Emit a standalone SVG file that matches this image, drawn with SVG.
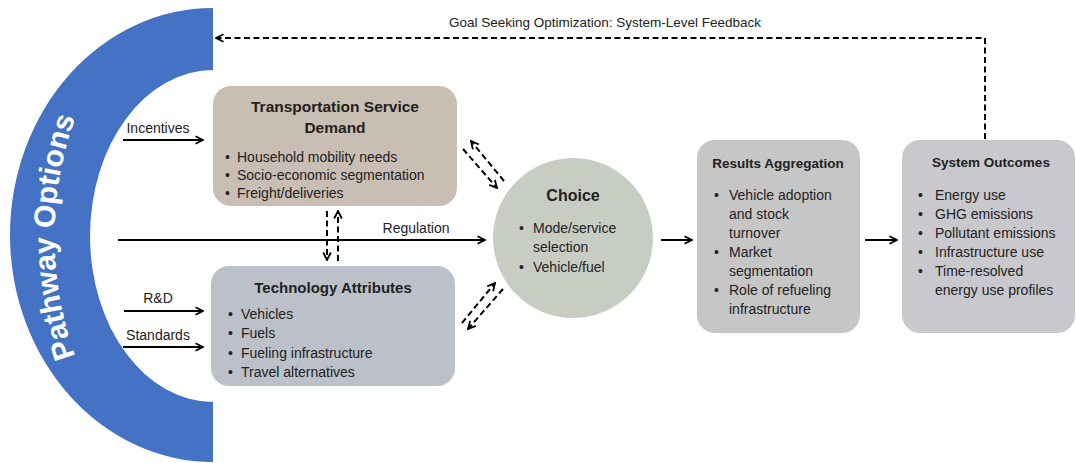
<svg xmlns="http://www.w3.org/2000/svg" width="1076" height="463" viewBox="0 0 1076 463">
<style>
text{font-family:"Liberation Sans",Arial,sans-serif;fill:#222}
.t{font-weight:bold;text-anchor:middle}
.b{font-size:14px}
.l{font-size:14px}
.ln{stroke:#000;stroke-width:2;fill:none}
.d{stroke:#000;stroke-width:2;fill:none;stroke-dasharray:6 3.5}
</style>
<defs>
<marker id="ah" viewBox="0 0 10 10" refX="9" refY="5" markerWidth="10" markerHeight="10" markerUnits="userSpaceOnUse" orient="auto">
<path d="M1.5,1.2 L9,5 L1.5,8.8" fill="none" stroke="#000" stroke-width="1.8" stroke-dasharray="none"/>
</marker>
<path id="arcpath" d="M83,376 A354,354 0 0 1 83,98"/>
</defs>
<rect width="1076" height="463" fill="#fff"/>
<g id="pathway">
<path d="M213,8 A203,227 0 0 0 213,462 L213,402 A123,166 0 0 1 213,70 Z" fill="#4472c4"/>
<text font-size="30" font-weight="bold" style="fill:#fff"><textPath href="#arcpath" startOffset="50%" text-anchor="middle">Pathway Options</textPath></text>
</g>
<g id="connectors">
<line class="ln" x1="123" y1="140" x2="203" y2="140" marker-end="url(#ah)"/>
<line class="ln" x1="124" y1="311" x2="203" y2="311" marker-end="url(#ah)"/>
<line class="ln" x1="123" y1="347" x2="203" y2="347" marker-end="url(#ah)"/>
<line class="ln" x1="118" y1="240" x2="485" y2="240" marker-end="url(#ah)"/>
<line class="ln" x1="661" y1="240" x2="692" y2="240" marker-end="url(#ah)"/>
<line class="ln" x1="865" y1="240" x2="897" y2="240" marker-end="url(#ah)"/>
<line class="d" x1="327" y1="211" x2="327" y2="260" marker-end="url(#ah)"/>
<line class="d" x1="338" y1="261" x2="338" y2="211" marker-end="url(#ah)"/>
<line class="d" x1="504" y1="181" x2="471" y2="141" marker-end="url(#ah)"/>
<line class="d" x1="463" y1="149" x2="497" y2="188" marker-end="url(#ah)"/>
<line class="d" x1="462" y1="323" x2="495" y2="283" marker-end="url(#ah)"/>
<line class="d" x1="503" y1="289" x2="468" y2="329" marker-end="url(#ah)"/>
<polyline class="d" points="985,139 985,38 216,38" marker-end="url(#ah)"/>
<text class="l" x="158" y="133" text-anchor="middle">Incentives</text>
<text class="l" x="158" y="303" text-anchor="middle">R&amp;D</text>
<text class="l" x="158" y="340" text-anchor="middle">Standards</text>
<text class="l" x="416" y="233" text-anchor="middle">Regulation</text>
<text x="605" y="27" text-anchor="middle" font-size="13.5">Goal Seeking Optimization: System-Level Feedback</text>
</g>
<g id="transport">
<rect x="213" y="86" width="244" height="120" rx="18" fill="#c9beb4"/>
<text class="t" x="335" y="112" font-size="15.5">Transportation Service</text>
<text class="t" x="335" y="133" font-size="15.5">Demand</text>
<g class="b">
<text x="225" y="162">•</text><text x="237" y="162">Household mobility needs</text>
<text x="225" y="180">•</text><text x="237" y="180">Socio-economic segmentation</text>
<text x="225" y="198">•</text><text x="237" y="198">Freight/deliveries</text>
</g>
</g>
<g id="technology">
<rect x="211" y="266" width="244" height="120" rx="18" fill="#bcc0c8"/>
<text class="t" x="333" y="293" font-size="15">Technology Attributes</text>
<g class="b">
<text x="228" y="319">•</text><text x="241" y="319">Vehicles</text>
<text x="228" y="338">•</text><text x="241" y="338">Fuels</text>
<text x="228" y="358">•</text><text x="241" y="358">Fueling infrastructure</text>
<text x="228" y="377">•</text><text x="241" y="377">Travel alternatives</text>
</g>
</g>
<g id="choice">
<circle cx="573" cy="238" r="80" fill="#c8cdc4"/>
<text class="t" x="573" y="201" font-size="16">Choice</text>
<g class="b">
<text x="519" y="233">•</text><text x="533" y="233">Mode/service</text>
<text x="533" y="252">selection</text>
<text x="519" y="272">•</text><text x="533" y="272">Vehicle/fuel</text>
</g>
</g>
<g id="results">
<rect x="697" y="140" width="163" height="193" rx="18" fill="#c6c6c6"/>
<text class="t" x="778" y="168" font-size="13.5">Results Aggregation</text>
<g class="b">
<text x="714" y="200">•</text><text x="729" y="200">Vehicle adoption</text>
<text x="729" y="219">and stock</text>
<text x="729" y="238">turnover</text>
<text x="714" y="257">•</text><text x="729" y="257">Market</text>
<text x="729" y="276">segmentation</text>
<text x="714" y="295">•</text><text x="729" y="295">Role of refueling</text>
<text x="729" y="314">infrastructure</text>
</g>
</g>
<g id="outcomes">
<rect x="902" y="140" width="173" height="193" rx="18" fill="#c9c8cc"/>
<text class="t" x="991" y="167" font-size="13.5">System Outcomes</text>
<g class="b">
<text x="918" y="200">•</text><text x="935" y="200">Energy use</text>
<text x="918" y="219">•</text><text x="935" y="219">GHG emissions</text>
<text x="918" y="238">•</text><text x="935" y="238">Pollutant emissions</text>
<text x="918" y="257">•</text><text x="935" y="257">Infrastructure use</text>
<text x="918" y="276">•</text><text x="935" y="276">Time-resolved</text>
<text x="935" y="295">energy use profiles</text>
</g>
</g>
</svg>
